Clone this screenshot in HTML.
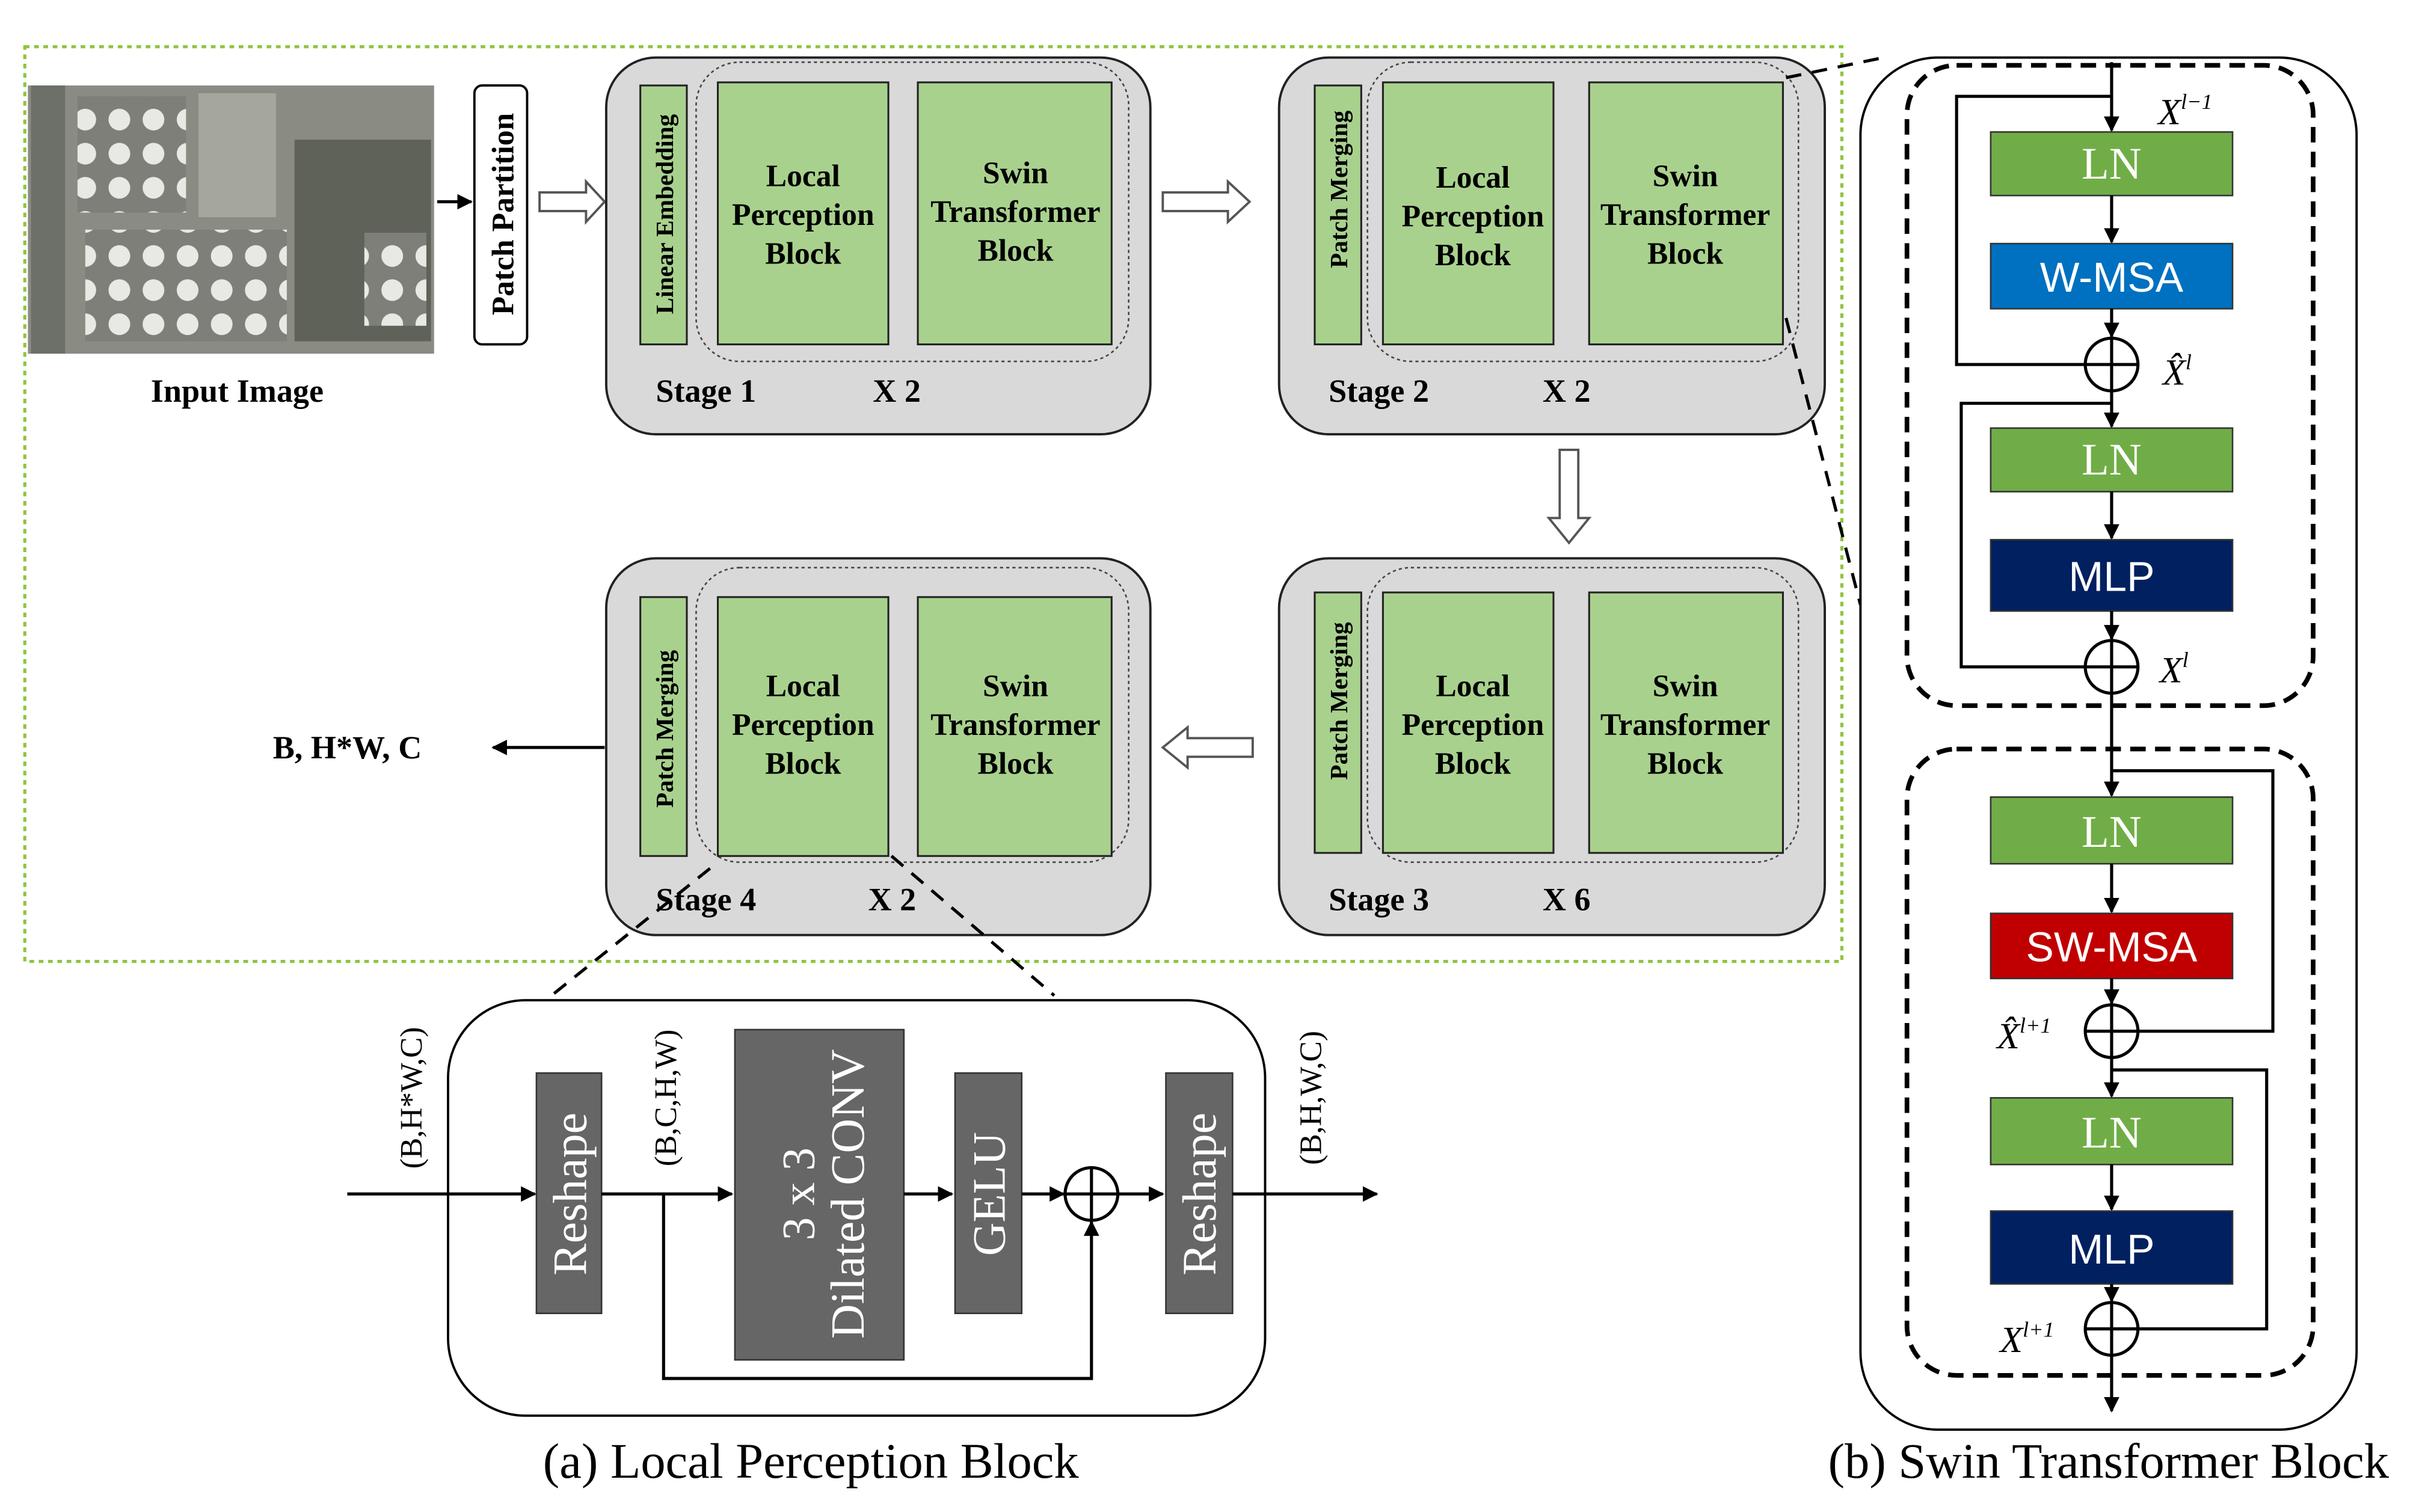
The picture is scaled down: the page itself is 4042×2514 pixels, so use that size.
<!DOCTYPE html>
<html><head><meta charset="utf-8"><style>html,body{margin:0;padding:0;background:#fff}svg{display:block}</style></head>
<body>
<svg width="4042" height="2514" viewBox="0 0 1568 975" xmlns="http://www.w3.org/2000/svg" font-family="'Liberation Serif', serif">
<defs>
<marker id="ah" markerWidth="10" markerHeight="10" refX="9" refY="5" orient="auto" markerUnits="userSpaceOnUse"><path d="M0,0 L10,5 L0,10 Z" fill="#000"/></marker>
<pattern id="tanks" width="22" height="22" patternUnits="userSpaceOnUse"><rect width="22" height="22" fill="#7d7f78"/><circle cx="11" cy="11" r="7" fill="#e8e8e4"/></pattern>
</defs>
<rect x="0" y="0" width="1568" height="975" fill="#fff"/>
<rect x="16" y="30" width="1172" height="590" fill="none" stroke="#8cc63f" stroke-width="2" stroke-dasharray="3,3"/>
<rect x="18" y="55" width="262" height="173" fill="#8a8b83"/>
<rect x="50" y="62" width="70" height="75" fill="url(#tanks)"/>
<rect x="55" y="148" width="130" height="72" fill="url(#tanks)"/>
<rect x="128" y="60" width="50" height="80" fill="#a5a69c"/>
<rect x="190" y="90" width="88" height="130" fill="#5f6258"/>
<rect x="235" y="150" width="40" height="60" fill="url(#tanks)"/>
<rect x="20" y="55" width="22" height="173" fill="#6d7068"/>
<text x="153" y="259" font-size="21" font-weight="bold" text-anchor="middle">Input Image</text>
<line x1="282" y1="130" x2="304" y2="130" stroke="#000" stroke-width="2" marker-end="url(#ah)"/>
<rect x="306" y="55" width="34" height="167" rx="5" fill="#fff" stroke="#000" stroke-width="1.5"/>
<text transform="translate(331,138) rotate(-90)" font-size="20" font-weight="bold" text-anchor="middle">Patch  Partition</text>
<g fill="#fff" stroke="#555" stroke-width="1.5">
<path d="M348,124 L378,124 L378,117 L390,130 L378,143 L378,136 L348,136 Z"/>
<path d="M750,124 L792,124 L792,117 L806,130 L792,143 L792,136 L750,136 Z"/>
<path d="M1006,290 L1018,290 L1018,334 L1025,334 L1012,350 L999,334 L1006,334 Z"/>
<path d="M808,476 L766,476 L766,469 L750,482 L766,495 L766,488 L808,488 Z"/>
</g>
<g stroke="#222" stroke-width="1.5">
<rect x="391" y="37" width="351" height="243" rx="32" fill="#d9d9d9"/>
<rect x="825" y="37" width="352" height="243" rx="32" fill="#d9d9d9"/>
<rect x="825" y="360" width="352" height="243" rx="32" fill="#d9d9d9"/>
<rect x="391" y="360" width="351" height="243" rx="32" fill="#d9d9d9"/>
</g>
<g fill="none" stroke="#444" stroke-width="1" stroke-dasharray="2,2">
<rect x="449" y="40" width="279" height="193" rx="28"/>
<rect x="882" y="40" width="278" height="193" rx="28"/>
<rect x="882" y="366" width="278" height="190" rx="28"/>
<rect x="449" y="366" width="279" height="190" rx="28"/>
</g>
<g fill="#a9d18e" stroke="#222" stroke-width="1.2">
<rect x="413" y="55" width="30" height="167"/><rect x="463" y="53" width="110" height="169"/><rect x="592" y="53" width="125" height="169"/>
<rect x="848" y="55" width="30" height="167"/><rect x="892" y="53" width="110" height="169"/><rect x="1025" y="53" width="125" height="169"/>
<rect x="848" y="382" width="30" height="168"/><rect x="892" y="382" width="110" height="168"/><rect x="1025" y="382" width="125" height="168"/>
<rect x="413" y="385" width="30" height="167"/><rect x="463" y="385" width="110" height="167"/><rect x="592" y="385" width="125" height="167"/>
</g>
<g font-size="16" font-weight="bold" text-anchor="middle">
<text transform="translate(434,138) rotate(-90)">Linear Embedding</text>
<text transform="translate(869,122) rotate(-90)">Patch Merging</text>
<text transform="translate(869,452) rotate(-90)">Patch Merging</text>
<text transform="translate(434,470) rotate(-90)">Patch Merging</text>
</g>
<g font-size="20" font-weight="bold" text-anchor="middle">
<text x="518" y="120">Local</text><text x="518" y="145">Perception</text><text x="518" y="170">Block</text>
<text x="655" y="118">Swin</text><text x="655" y="143">Transformer</text><text x="655" y="168">Block</text>
<text x="950" y="121">Local</text><text x="950" y="146">Perception</text><text x="950" y="171">Block</text>
<text x="1087" y="120">Swin</text><text x="1087" y="145">Transformer</text><text x="1087" y="170">Block</text>
<text x="950" y="449">Local</text><text x="950" y="474">Perception</text><text x="950" y="499">Block</text>
<text x="1087" y="449">Swin</text><text x="1087" y="474">Transformer</text><text x="1087" y="499">Block</text>
<text x="518" y="449">Local</text><text x="518" y="474">Perception</text><text x="518" y="499">Block</text>
<text x="655" y="449">Swin</text><text x="655" y="474">Transformer</text><text x="655" y="499">Block</text>
</g>
<g font-size="21" font-weight="bold">
<text x="423" y="259">Stage 1</text><text x="563" y="259">X  2</text>
<text x="857" y="259">Stage 2</text><text x="995" y="259">X  2</text>
<text x="857" y="587">Stage 3</text><text x="995" y="587">X  6</text>
<text x="423" y="587">Stage 4</text><text x="560" y="587">X  2</text>
<text x="176" y="489">B, H*W, C</text>
</g>
<line x1="390" y1="482" x2="318" y2="482" stroke="#000" stroke-width="2" marker-end="url(#ah)"/>
<g stroke="#000" stroke-width="2" stroke-dasharray="10,7" fill="none">
<line x1="458" y1="560" x2="352" y2="645"/>
<line x1="575" y1="552" x2="680" y2="642"/>
<line x1="1152" y1="50" x2="1215" y2="37"/>
<line x1="1152" y1="205" x2="1200" y2="390"/>
</g>
<rect x="289" y="645" width="527" height="268" rx="50" fill="#fff" stroke="#000" stroke-width="1.5"/>
<g fill="#666" stroke="#333" stroke-width="1">
<rect x="346" y="692" width="42" height="155"/><rect x="474" y="664" width="109" height="213"/>
<rect x="616" y="692" width="43" height="155"/><rect x="752" y="692" width="43" height="155"/>
</g>
<g fill="#fff" text-anchor="middle">
<text transform="translate(378,770) rotate(-90)" font-size="31" fill="#fff">Reshape</text>
<text transform="translate(784,770) rotate(-90)" font-size="31" fill="#fff">Reshape</text>
<text transform="translate(648,770) rotate(-90)" font-size="30" fill="#fff">GELU</text>
<text transform="translate(525,770) rotate(-90)" font-size="30" fill="#fff">3 x 3</text>
<text transform="translate(557,770) rotate(-90)" font-size="31" fill="#fff">Dilated CONV</text>
</g>
<g stroke="#000" stroke-width="2" fill="none">
<line x1="224" y1="770" x2="345" y2="770" marker-end="url(#ah)"/>
<line x1="388" y1="770" x2="472" y2="770" marker-end="url(#ah)"/>
<line x1="583" y1="770" x2="614" y2="770" marker-end="url(#ah)"/>
<line x1="659" y1="770" x2="686" y2="770" marker-end="url(#ah)"/>
<line x1="721" y1="770" x2="750" y2="770" marker-end="url(#ah)"/>
<line x1="795" y1="770" x2="888" y2="770" marker-end="url(#ah)"/>
<polyline points="428,770 428,889 704,889 704,788" marker-end="url(#ah)"/>
<circle cx="704" cy="770" r="17"/><line x1="687" y1="770" x2="721" y2="770"/><line x1="704" y1="753" x2="704" y2="787"/>
</g>
<g font-size="20" text-anchor="middle">
<text transform="translate(272,708) rotate(-90)">(B,H*W,C)</text>
<text transform="translate(436,708) rotate(-90)">(B,C,H,W)</text>
<text transform="translate(852,708) rotate(-90)">(B,H,W,C)</text>
</g>
<text x="523" y="953" font-size="32" text-anchor="middle">(a) Local Perception Block</text>
<rect x="1200" y="37" width="320" height="885" rx="50" fill="#fff" stroke="#000" stroke-width="1.5"/>
<g fill="none" stroke="#000" stroke-width="3" stroke-dasharray="10,6">
<rect x="1230" y="42" width="262" height="413" rx="32"/>
<rect x="1230" y="483" width="262" height="404" rx="32"/>
</g>
<g stroke="#333" stroke-width="1">
<rect x="1284" y="85" width="156" height="41" fill="#70ad47"/>
<rect x="1284" y="157" width="156" height="42" fill="#0070c0"/>
<rect x="1284" y="276" width="156" height="41" fill="#70ad47"/>
<rect x="1284" y="348" width="156" height="46" fill="#002060"/>
<rect x="1284" y="514" width="156" height="43" fill="#70ad47"/>
<rect x="1284" y="589" width="156" height="42" fill="#c00000"/>
<rect x="1284" y="708" width="156" height="43" fill="#70ad47"/>
<rect x="1284" y="781" width="156" height="47" fill="#002060"/>
</g>
<g fill="#fff" text-anchor="middle" font-family="'Liberation Sans', sans-serif" font-size="27">
<text x="1362" y="115" font-family="'Liberation Serif', serif" font-size="29">LN</text>
<text x="1362" y="188">W-MSA</text>
<text x="1362" y="306" font-family="'Liberation Serif', serif" font-size="29">LN</text>
<text x="1362" y="381">MLP</text>
<text x="1362" y="546" font-family="'Liberation Serif', serif" font-size="29">LN</text>
<text x="1362" y="620">SW-MSA</text>
<text x="1362" y="740" font-family="'Liberation Serif', serif" font-size="29">LN</text>
<text x="1362" y="815">MLP</text>
</g>
<g stroke="#000" stroke-width="2" fill="none">
<line x1="1362" y1="40" x2="1362" y2="84" marker-end="url(#ah)"/>
<line x1="1362" y1="126" x2="1362" y2="156" marker-end="url(#ah)"/>
<line x1="1362" y1="199" x2="1362" y2="217" marker-end="url(#ah)"/>
<line x1="1362" y1="252" x2="1362" y2="275" marker-end="url(#ah)"/>
<line x1="1362" y1="317" x2="1362" y2="347" marker-end="url(#ah)"/>
<line x1="1362" y1="394" x2="1362" y2="412" marker-end="url(#ah)"/>
<line x1="1362" y1="447" x2="1362" y2="513" marker-end="url(#ah)"/>
<line x1="1362" y1="557" x2="1362" y2="588" marker-end="url(#ah)"/>
<line x1="1362" y1="631" x2="1362" y2="647" marker-end="url(#ah)"/>
<line x1="1362" y1="682" x2="1362" y2="707" marker-end="url(#ah)"/>
<line x1="1362" y1="751" x2="1362" y2="780" marker-end="url(#ah)"/>
<line x1="1362" y1="828" x2="1362" y2="839" marker-end="url(#ah)"/>
<line x1="1362" y1="874" x2="1362" y2="910" marker-end="url(#ah)"/>
<polyline points="1362,62 1262,62 1262,235 1345,235"/>
<polyline points="1362,260 1265,260 1265,430 1345,430"/>
<polyline points="1362,497 1466,497 1466,665 1379,665"/>
<polyline points="1362,690 1462,690 1462,857 1379,857"/>
<circle cx="1362" cy="235" r="17"/><line x1="1345" y1="235" x2="1379" y2="235"/><line x1="1362" y1="218" x2="1362" y2="252"/>
<circle cx="1362" cy="430" r="17"/><line x1="1345" y1="430" x2="1379" y2="430"/><line x1="1362" y1="413" x2="1362" y2="447"/>
<circle cx="1362" cy="665" r="17"/><line x1="1345" y1="665" x2="1379" y2="665"/><line x1="1362" y1="648" x2="1362" y2="682"/>
<circle cx="1362" cy="857" r="17"/><line x1="1345" y1="857" x2="1379" y2="857"/><line x1="1362" y1="840" x2="1362" y2="874"/>
</g>
<g font-size="24" font-style="italic">
<text x="1392" y="80">X<tspan font-size="14" dy="-10">l−1</tspan></text>
<text x="1395" y="248">X̂<tspan font-size="14" dy="-10">l</tspan></text>
<text x="1393" y="440">X<tspan font-size="14" dy="-10">l</tspan></text>
<text x="1288" y="676">X̂<tspan font-size="14" dy="-10">l+1</tspan></text>
<text x="1290" y="872">X<tspan font-size="14" dy="-10">l+1</tspan></text>
</g>
<text x="1360" y="953" font-size="32" text-anchor="middle">(b) Swin Transformer Block</text>
</svg>
</body></html>
